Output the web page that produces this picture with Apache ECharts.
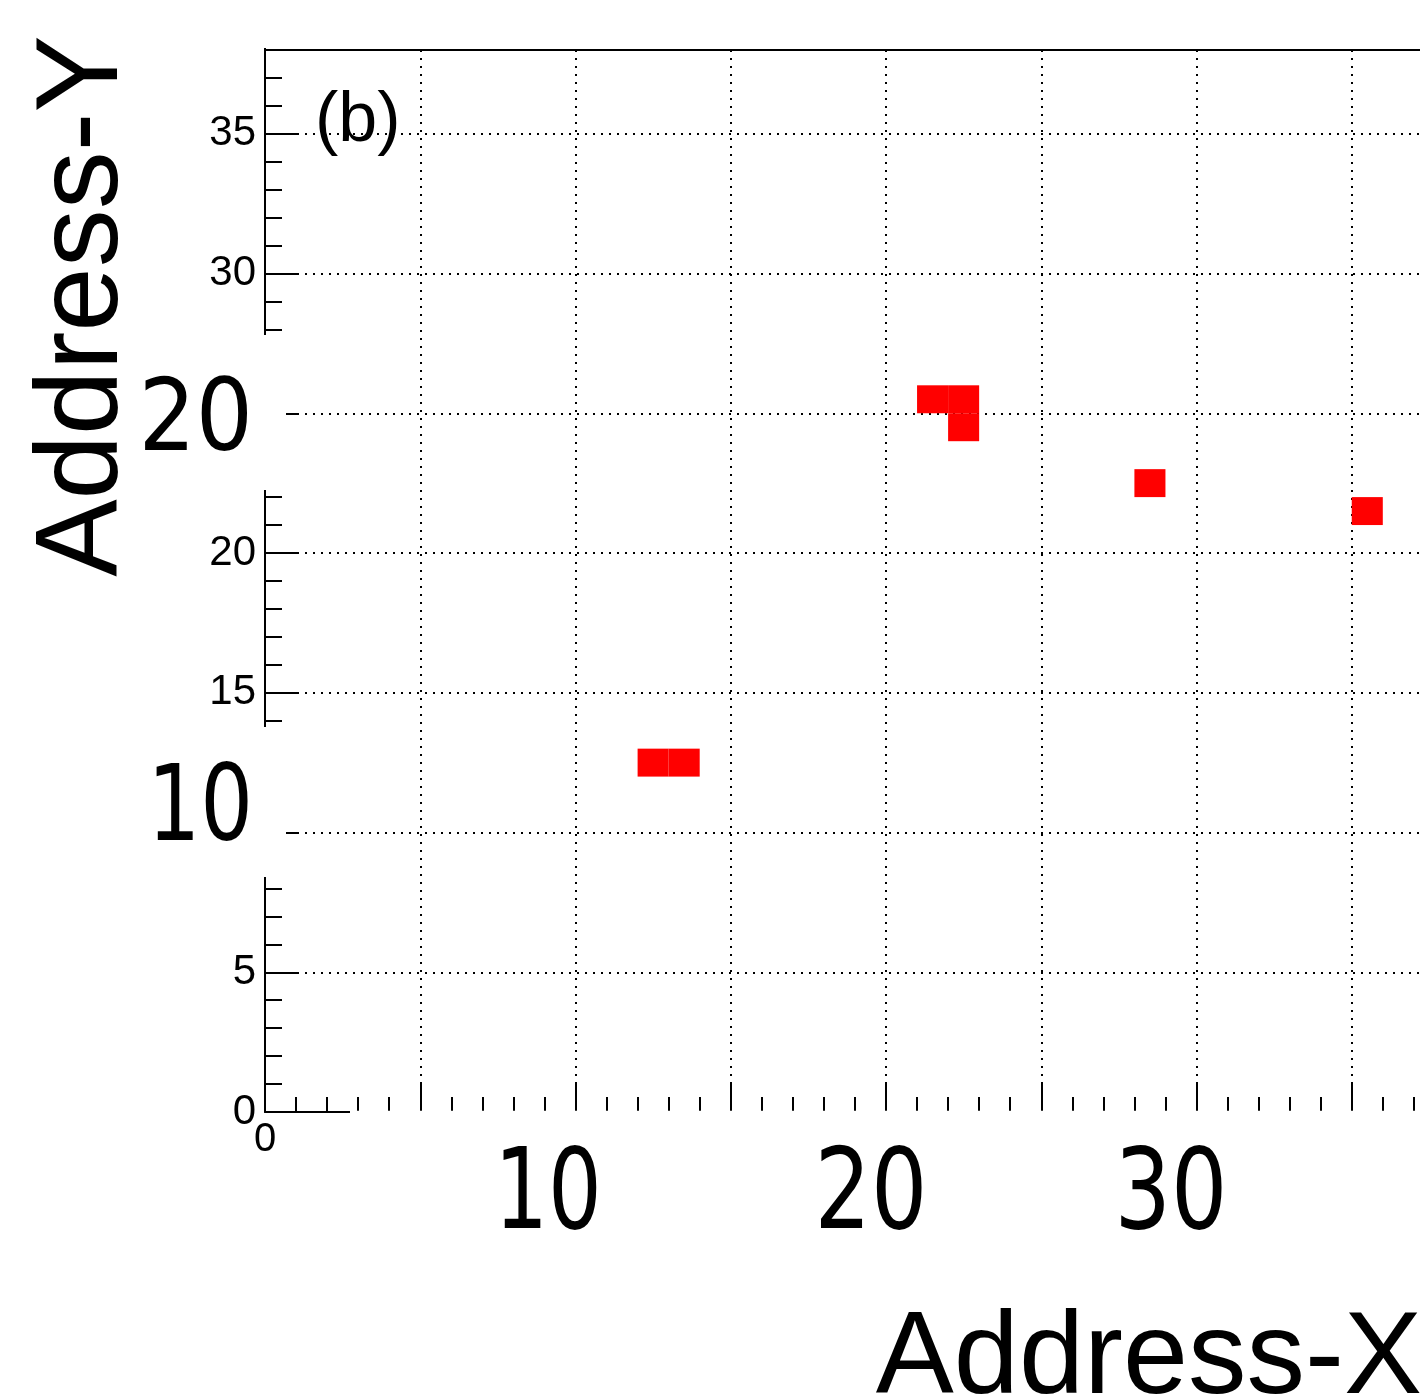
<!DOCTYPE html>
<html>
<head>
<meta charset="utf-8">
<script src="https://cdn.jsdelivr.net/npm/echarts@6/dist/echarts.min.js"></script>
<style>
  html, body { margin: 0; padding: 0; background: #fff; overflow: hidden; }
  #chart { width: 1420px; height: 1398px; }
</style>
</head>
<body>
<div id="chart"></div>
<script>
// filled bins (lower-left corner of each 1x1 cell)
const binX = [12, 13, 21, 22, 22, 28, 35];
const binY = [12, 12, 25, 25, 24, 22, 21];

// axis ranges / ticks
const axisMin = 0;
const axisMax = 40;
const frameTop = 38;
const majorStep = 5;

// the big overlaid tick labels
const bigXLabels = ['10', '20', '30'];
const bigYLabels = ['20', '10'];
// small labels that are hidden under the big ones
const hiddenYLabels = [10, 25];

const BLACK = '#000';
const RED = '#ff0000';
const helv = '"Liberation Sans", Arial, sans-serif';
const narrow = '"Liberation Sans Narrow", "DejaVu Sans Condensed", "Liberation Sans", sans-serif';

const bins = binX.map((x, i) => [x, binY[i]]);

const dotted = { color: BLACK, width: 2, type: [2, 6] };

// big label helper (squeezed horizontally, like the original condensed font)
function bigText(text, x, y, size, align, sx) {
    return {
        type: 'text', z: 10, x: x, y: y, scaleX: sx,
        style: { text: text, fill: BLACK, font: size + 'px ' + narrow, textAlign: align, textVerticalAlign: 'middle' }
    };
}

const option = {
    animation: false,
    backgroundColor: '#fff',
    grid: {
        left: 265,
        right: -87,
        top: -6,
        bottom: 286,
        containLabel: false,
        outerBoundsMode: 'none'
    },
    xAxis: {
        type: 'value',
        min: axisMin,
        max: axisMax,
        interval: majorStep,
        axisLine: { show: true, onZero: false, lineStyle: { color: BLACK, width: 2 } },
        axisTick: { show: true, inside: true, length: 30, lineStyle: { color: BLACK, width: 2 } },
        minorTick: { show: true, splitNumber: 5, length: 15, lineStyle: { color: BLACK, width: 2 } },
        axisLabel: {
            color: BLACK,
            fontFamily: helv,
            fontSize: 40,
            margin: 8,
            // only the 0 survives on the x axis
            formatter: v => (v === 0 ? '0' : '')
        },
        splitLine: { show: true, lineStyle: dotted }
    },
    yAxis: {
        type: 'value',
        min: axisMin,
        max: axisMax,
        interval: majorStep,
        axisLine: { show: true, onZero: false, lineStyle: { color: BLACK, width: 2 } },
        axisTick: { show: true, inside: true, length: 33, lineStyle: { color: BLACK, width: 2 } },
        minorTick: { show: true, splitNumber: 5, length: 17, lineStyle: { color: BLACK, width: 2 } },
        axisLabel: {
            color: BLACK,
            fontFamily: helv,
            fontSize: 42,
            margin: 9,
            formatter: v => (v > 35 || hiddenYLabels.includes(v) ? '' : String(v))
        },
        splitLine: { show: true, lineStyle: dotted }
    },
    series: [{
        type: 'custom',
        data: bins,
        z: 5,
        renderItem: function (params, api) {
            const p0 = api.coord([api.value(0), api.value(1) + 1]);
            const p1 = api.coord([api.value(0) + 1, api.value(1)]);
            return {
                type: 'rect',
                shape: { x: p0[0], y: p0[1], width: p1[0] - p0[0], height: p1[1] - p0[1] },
                style: { fill: RED }
            };
        },
        // top frame line
        markLine: {
            silent: true,
            symbol: 'none',
            label: { show: false },
            lineStyle: { color: BLACK, width: 2, type: 'solid' },
            data: [{ yAxis: frameTop }]
        }
    }],
    graphic: [
        // blank everything above the frame
        { type: 'rect', z: 1, shape: { x: 150, y: -20, width: 1300, height: 68 }, style: { fill: '#fff' } },
        // gaps in the y axis behind the big labels
        { type: 'rect', z: 1, shape: { x: 130, y: 335, width: 156, height: 155 }, style: { fill: '#fff' } },
        { type: 'rect', z: 1, shape: { x: 130, y: 727, width: 156, height: 150 }, style: { fill: '#fff' } },
        // gap in the x axis line
        { type: 'rect', z: 1, shape: { x: 350, y: 1110.8, width: 1100, height: 20 }, style: { fill: '#fff' } },

        { type: 'text', z: 10, x: 315, y: 122,
          style: { text: '(b)', fill: BLACK, font: '70px ' + helv, textVerticalAlign: 'middle' } },

        bigText(bigXLabels[0], 548, 1199, 112, 'center', 0.84),
        bigText(bigXLabels[1], 871, 1199, 112, 'center', 0.88),
        bigText(bigXLabels[2], 1171, 1199, 112, 'center', 0.88),

        bigText(bigYLabels[0], 253, 424, 100, 'right', 1),
        bigText(bigYLabels[1], 253, 812, 106, 'right', 0.87),

        { type: 'text', z: 10, x: 85, y: 306, rotation: Math.PI / 2,
          style: { text: 'Address-Y', fill: BLACK, font: '116px ' + helv, textAlign: 'center', textVerticalAlign: 'middle' } },
        { type: 'text', z: 10, x: 1422, y: 1361,
          style: { text: 'Address-X', fill: BLACK, font: '117px ' + helv, textAlign: 'right', textVerticalAlign: 'middle' } }
    ]
};

const chart = echarts.init(document.getElementById('chart'), null, { renderer: 'canvas' });
chart.setOption(option);
</script>
</body>
</html>
